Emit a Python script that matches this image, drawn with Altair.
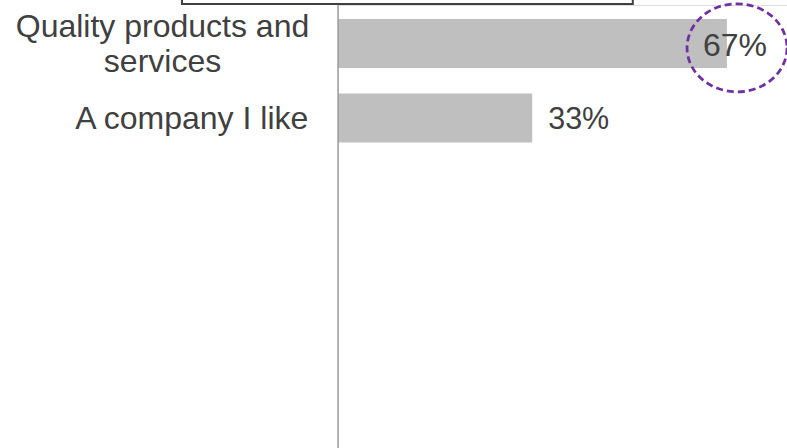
import altair as alt
import pandas as pd

categories = ["Quality products and services", "A company I like"]
label_text = ["Quality products and\nservices", "A company I like"]
values = [0.667, 0.333]
highlighted = ["Quality products and services"]

df = pd.DataFrame({"category": categories, "label": label_text, "value": values})

TEXT = "#404040"
BAR = "#BFBFBF"
PURPLE = "#7030A0"
FONT = "Liberation Sans"

# ellipse outline as a custom symbol (unit radius, slightly offset from anchor)
k = 0.5523
cx, cy, rx, ry = 0.202, 0.086, 1.0, 0.88
def p(x, y):
    return f"{x:.4f} {y:.4f}"
ellipse_path = (
    f"M {p(cx+rx, cy)} "
    f"C {p(cx+rx, cy+k*ry)} {p(cx+k*rx, cy+ry)} {p(cx, cy+ry)} "
    f"C {p(cx-k*rx, cy+ry)} {p(cx-rx, cy+k*ry)} {p(cx-rx, cy)} "
    f"C {p(cx-rx, cy-k*ry)} {p(cx-k*rx, cy-ry)} {p(cx, cy-ry)} "
    f"C {p(cx+k*rx, cy-ry)} {p(cx+rx, cy-k*ry)} {p(cx+rx, cy)} Z"
)

y_scale = alt.Scale(domain=categories, range=[14, 137.6], paddingInner=0.343, paddingOuter=0)
y_enc = alt.Y("category:N", sort=categories, scale=y_scale, axis=None)
x_enc = alt.X("value:Q", scale=alt.Scale(domain=[0, 0.77], nice=False), axis=None)

base = alt.Chart(df)

bars = base.mark_bar(color=BAR).encode(x=x_enc, y=y_enc)

axis_line = base.mark_rule(color="#8C8C8C", strokeWidth=1.2).encode(
    x=alt.datum(0), y=alt.value(0), y2=alt.value(443)
).transform_filter("datum.category == '%s'" % categories[0])

val_out = base.transform_filter("datum.value < 0.5").mark_text(
    align="left", baseline="middle", dx=16, dy=2, fontSize=30.5, font=FONT, color=TEXT
).encode(x="value:Q", y=y_enc, text=alt.Text("value:Q", format=".0%"))

val_in = base.transform_filter("datum.value >= 0.5").mark_text(
    align="left", baseline="middle", dx=-24, dy=2, fontSize=32, font=FONT, color=TEXT
).encode(x="value:Q", y=y_enc, text=alt.Text("value:Q", format=".0%"))

lab_multi = base.transform_filter("indexof(datum.label, '\\n') >= 0").mark_text(
    align="center", baseline="middle", lineBreak="\n", lineHeight=35, dy=-16.5,
    fontSize=32, font=FONT, color=TEXT
).encode(x=alt.value(-175.5), y=y_enc, text="label:N")

lab_single = base.transform_filter("indexof(datum.label, '\\n') < 0").mark_text(
    align="right", baseline="middle", dy=1, fontSize=32, font=FONT, color=TEXT
).encode(x=alt.value(-29.7), y=y_enc, text="label:N")

ellipse = base.transform_filter(
    alt.FieldOneOfPredicate(field="category", oneOf=highlighted)
).mark_point(
    shape=ellipse_path, size=10000, filled=False, stroke=PURPLE, strokeWidth=2.75,
    strokeDash=[7, 4], opacity=1
).encode(x="value:Q", y=y_enc)

box = base.mark_rect(fill="white", stroke=TEXT, strokeWidth=2).encode(
    x=alt.value(-156), x2=alt.value(294.8), y=alt.value(-40), y2=alt.value(-1)
).transform_filter("datum.category == '%s'" % categories[0])

chart = alt.layer(bars, axis_line, val_out, val_in, lab_multi, lab_single, ellipse, box).properties(
    width=449, height=443,
    autosize=alt.AutoSizeParams(type="none"),
    padding={"left": 338, "top": 5, "right": 0, "bottom": 0},
).configure_view(stroke=None).configure(background="white")

chart.save("out.html", embed_options={"renderer": "svg", "actions": False})
